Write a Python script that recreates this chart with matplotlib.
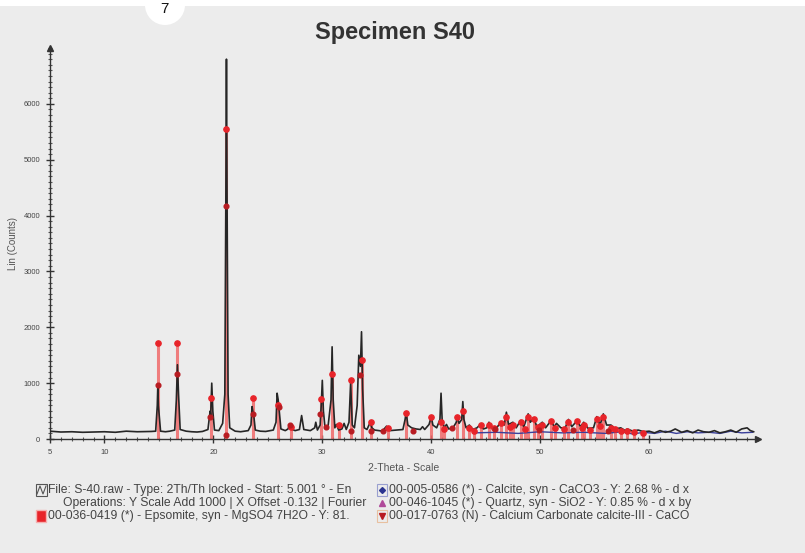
import matplotlib
matplotlib.use("Agg")
import matplotlib.pyplot as plt
from matplotlib.lines import Line2D
from matplotlib.patches import Rectangle, Circle
from matplotlib.ticker import MultipleLocator, FixedLocator

plt.rcParams['font.family'] = ['Liberation Sans', 'DejaVu Sans']

# ---------------- data ----------------
title = "Specimen S40"
x_label = "2-Theta - Scale"
y_label = "Lin (Counts)"
x_ticks = [5, 10, 20, 30, 40, 50, 60]
x_tick_labels = ["5", "10", "20", "30", "40", "50", "60"]
y_ticks = [0, 1000, 2000, 3000, 4000, 5000, 6000]
y_tick_labels = ["0", "1000", "2000", "3000", "4000", "5000", "6000"]

scan_x = [5.0, 6.0, 7.0, 8.0, 9.0, 10.0, 11.0, 12.0, 13.0, 14.3,
          14.7, 14.85, 14.9, 14.95, 15.15,
          15.6, 16.0, 16.45,
          16.6, 16.7, 16.8, 16.95,
          17.5, 18.0, 18.5, 19.0, 19.5,
          19.7, 19.75, 19.85, 19.95, 20.1,
          20.5, 20.85,
          21.05, 21.15, 21.2, 21.25, 21.35, 21.5,
          22.0, 22.5, 23.2,
          23.45, 23.55, 23.6, 23.7, 23.85,
          24.3, 24.8, 25.5,
          25.75, 25.85, 25.95, 26.05, 26.2,
          26.6, 26.85, 27.0, 27.15, 27.5,
          27.9, 28.1, 28.3, 28.9,
          29.3, 29.4, 29.55, 29.8,
          29.9, 30.0, 30.1, 30.25,
          30.5, 30.8, 30.9, 31.0, 31.15,
          31.3, 31.5, 31.8, 32.0, 32.2,
          32.45, 32.6, 32.75,
          32.95, 33.2, 33.35, 33.5, 33.6, 33.7, 33.85,
          34.1, 34.4, 34.55, 34.8, 35.2, 35.5, 35.9, 36.2, 36.8, 37.4,
          37.6, 37.7, 37.85, 38.2,
          38.6, 39.0, 39.2, 39.4, 39.8, 40.0, 40.15,
          40.5, 40.8, 40.9, 41.0, 41.2, 41.4, 41.6,
          42.0, 42.3, 42.4, 42.55, 42.8, 42.9, 43.0, 43.2,
          43.5, 43.8, 44.2, 44.5, 44.8, 45.1, 45.3, 45.6,
          46.0, 46.4, 46.7, 46.9, 47.1, 47.5, 47.8,
          48.2, 48.5, 48.9, 49.1, 49.4, 49.7, 50.2, 50.5,
          51.0, 51.3, 51.5, 51.9, 52.3, 52.6, 52.9, 53.4, 53.7, 54.0, 54.4,
          54.9, 55.2, 55.5, 55.8, 56.1, 56.5, 56.9, 57.4, 57.8, 58.0, 58.5, 59.0, 59.5,
          60.0, 60.5, 61.0, 61.5, 62.0, 62.4, 63.0, 63.5, 64.0, 64.5, 65.0,
          65.5, 66.0, 66.5, 67.0, 67.5, 68.0, 68.5, 69.0, 69.3, 69.6]
scan_y = [140, 125, 130, 120, 125, 130, 120, 140, 130, 135,
          140, 600, 960, 600, 140,
          130, 140, 160,
          700, 1330, 800, 170,
          140, 130, 125, 135, 170,
          500, 420, 1000, 500, 160,
          150, 280,
          800, 4500, 6800, 4500, 800, 200,
          140, 130, 150,
          250, 580, 520, 430, 160,
          140, 135, 160,
          300, 820, 700, 500, 180,
          150, 180, 260, 180, 150,
          170, 420, 170, 150,
          200, 300, 160, 250,
          600, 1050, 500, 200,
          180, 700, 1650, 700, 200,
          260, 160, 180, 280, 170,
          300, 1000, 250,
          200, 600, 1500, 1300, 1920, 900, 200,
          170, 300, 200, 160, 150, 140, 230, 150, 160, 170,
          350, 480, 250, 200,
          180, 170, 220, 170, 260, 400, 250,
          200, 350, 820, 350, 200, 260, 180,
          200, 300, 400, 280, 350, 670, 350, 200,
          250, 170, 200, 260, 180, 200, 300, 190,
          200, 300, 250, 480, 260, 300, 200,
          330, 220, 450, 300, 380, 220, 300, 200,
          330, 220, 280, 200, 200, 350, 220, 330, 220, 300, 190,
          200, 400, 250, 450, 250, 250, 180, 200, 150, 180, 140, 160, 130,
          140, 110, 150, 120, 140, 180, 120, 150, 110, 160, 130,
          120, 150, 110, 130, 160, 120, 180, 200, 150, 130]

# Epsomite reference sticks (red, marker at top)
eps_pos = [14.9, 16.7, 19.8, 21.2, 23.6, 25.9, 27.1, 29.9, 30.9, 31.5,
           32.6, 33.6, 34.5, 36.0, 37.7, 40.0, 40.9, 42.4, 42.9, 43.5,
           44.6, 45.3, 46.4, 46.9, 47.5, 48.2, 48.9, 49.4, 50.2, 51.0,
           52.6, 53.4, 54.0, 55.2, 55.8, 56.5, 57.4, 58.0,
           41.2, 43.9, 45.8, 47.2, 48.6, 49.8, 51.4, 52.2, 53.8, 54.6,
           55.5, 56.9, 58.6, 59.4]
eps_int = [1710, 1710, 730, 5550, 730, 600, 220, 720, 1160, 250,
           1050, 1420, 300, 200, 460, 390, 300, 400, 500, 200,
           250, 250, 280, 400, 250, 300, 400, 350, 250, 330,
           300, 330, 250, 350, 400, 200, 150, 150,
           180, 150, 200, 220, 180, 220, 200, 180, 200, 160,
           240, 180, 120, 110]

# calcium carbonate / other phase markers (dark red)
cc_pos = [14.9, 16.7, 19.7, 21.2, 21.2, 23.6, 26.0, 27.0, 29.8, 30.3,
          32.6, 33.5, 34.5, 35.6, 38.3, 41.9, 45.9, 49.9, 53.0, 56.2]
cc_int = [960, 1160, 400, 4180, 80, 450, 580, 250, 450, 220,
          150, 1150, 150, 150, 150, 200, 180, 170, 160, 150]

# calcite / quartz pattern (blue line near baseline)
blue_x = [44.0, 46.0, 48.0, 50.0, 52.0, 54.0, 56.0, 57.5, 58.5, 59.5,
          60.5, 61.5, 62.5, 63.5, 64.5, 65.5, 66.5, 67.5, 68.5, 69.5]
blue_y = [110, 120, 100, 130, 110, 120, 100, 130, 90, 120,
          100, 140, 100, 130, 110, 120, 100, 140, 110, 120]

legend_left = ["File: S-40.raw - Type: 2Th/Th locked - Start: 5.001 \u00b0 - En",
               "Operations: Y Scale Add 1000 | X Offset -0.132 | Fourier",
               "00-036-0419 (*) - Epsomite, syn - MgSO4 7H2O - Y: 81."]
legend_right = ["00-005-0586 (*) - Calcite, syn - CaCO3 - Y: 2.68 % - d x",
                "00-046-1045 (*) - Quartz, syn - SiO2 - Y: 0.85 % - d x by",
                "00-017-0763 (N) - Calcium Carbonate calcite-III - CaCO"]

# ---------------- drawing ----------------
BG = '#ececec'
fig = plt.figure(figsize=(8.05, 5.53), dpi=100, facecolor=BG)
ax = fig.add_axes([50 / 805, 1 - 439 / 553, (758 - 50) / 805, (439 - 48) / 553])
ax.set_facecolor(BG)
ax.set_xlim(5, 70)
ax.set_ylim(0, 7000)

# reference sticks
ax.vlines(eps_pos, 0, eps_int, colors='#f06a6a', linewidth=2.2, alpha=0.85, zorder=2)
ax.plot(eps_pos, eps_int, 'o', color='#e8242a', markersize=3.8, zorder=4)
ax.plot(cc_pos, cc_int, 'o', color='#b81c22', markersize=3.4, zorder=4)
ax.plot(blue_x, blue_y, color='#3a3f9a', linewidth=1.0, zorder=3)
# scan
ax.plot(scan_x, scan_y, color='#262626', linewidth=1.2, zorder=3)

for s in ['top', 'right']:
    ax.spines[s].set_visible(False)
for s in ['left', 'bottom']:
    ax.spines[s].set_color('#333333')
    ax.spines[s].set_linewidth(1.0)
ax.plot(1, 0, '>', color='#333333', markersize=4, transform=ax.transAxes, clip_on=False)
ax.plot(0, 1, '^', color='#333333', markersize=4, transform=ax.transAxes, clip_on=False)

ax.xaxis.set_major_locator(FixedLocator(x_ticks))
ax.set_xticklabels(x_tick_labels)
ax.xaxis.set_minor_locator(MultipleLocator(1))
ax.yaxis.set_major_locator(FixedLocator(y_ticks))
ax.set_yticklabels(y_tick_labels)
ax.yaxis.set_minor_locator(MultipleLocator(100))
ax.tick_params(axis='both', which='major', direction='inout', length=6, width=1,
               color='#333333', labelsize=5.5, labelcolor='#444444', pad=4)
ax.tick_params(axis='both', which='minor', direction='inout', length=3, width=0.8,
               color='#555555')

ax.set_xlabel(x_label, fontsize=7.5, color='#555555', labelpad=5)
ax.set_ylabel(y_label, fontsize=7, color='#555555', labelpad=4)

fig.text(395 / 805, 1 - 32 / 553, title, ha='center', va='center',
         fontsize=17, fontweight='bold', color='#333333')

# legend
rows_y = [490, 503, 516]
LFS = 8.7
for i, t in enumerate(legend_left):
    x0 = 48 if i != 1 else 63
    fig.text(x0 / 805, 1 - rows_y[i] / 553, t, ha='left', va='center',
             fontsize=LFS, color='#444444')
for t, yy in zip(legend_right, rows_y):
    fig.text(389 / 805, 1 - yy / 553, t, ha='left', va='center',
             fontsize=LFS, color='#444444')

def fig_marker(px, py, marker, color, size, mec=None):
    fig.add_artist(Line2D([px / 805], [1 - py / 553], marker=marker, color=color,
                          markersize=size, markeredgecolor=mec or color,
                          transform=fig.transFigure))

# legend icons
fig.add_artist(Rectangle((36 / 805, 1 - 496 / 553), 11 / 805, 12 / 553, fill=False,
                         edgecolor='#555555', linewidth=0.8, transform=fig.transFigure))
fig.add_artist(Line2D([37 / 805, 40 / 805, 43 / 805, 46 / 805],
                      [1 - 494 / 553, 1 - 486 / 553, 1 - 494 / 553, 1 - 486 / 553],
                      color='#555555', linewidth=0.8, transform=fig.transFigure))
fig.add_artist(Rectangle((36 / 805, 1 - 522 / 553), 10 / 805, 12 / 553,
                         facecolor='#e8242a', edgecolor='#f5b0b0', linewidth=1.0,
                         transform=fig.transFigure))
fig.add_artist(Rectangle((377 / 805, 1 - 496 / 553), 10 / 805, 12 / 553, fill=False,
                         edgecolor='#9aa0d0', linewidth=0.8, transform=fig.transFigure))
fig_marker(382, 490, 'D', '#2b3590', 3)
fig_marker(382, 503, '^', '#b04a9a', 4.5)
fig.add_artist(Rectangle((377 / 805, 1 - 522 / 553), 10 / 805, 12 / 553, fill=False,
                         edgecolor='#e8c0a0', linewidth=0.8, transform=fig.transFigure))
fig_marker(382, 516, 'v', '#b81c22', 5)

# white strip at the top and the numbered circle
fig.add_artist(Rectangle((0, 1 - 6 / 553), 1, 6 / 553, facecolor='white',
                         edgecolor='none', transform=fig.transFigure, zorder=10))
fig.add_artist(Circle((165, 553 - 5), 20, facecolor='white', edgecolor='none',
                      transform=None, zorder=10))
fig.text(164 / 805, 1 - 9 / 553, "7", ha='center', va='center', fontsize=11,
         color='#111111', zorder=11)

fig.savefig("out.png", dpi=100, facecolor=BG)
